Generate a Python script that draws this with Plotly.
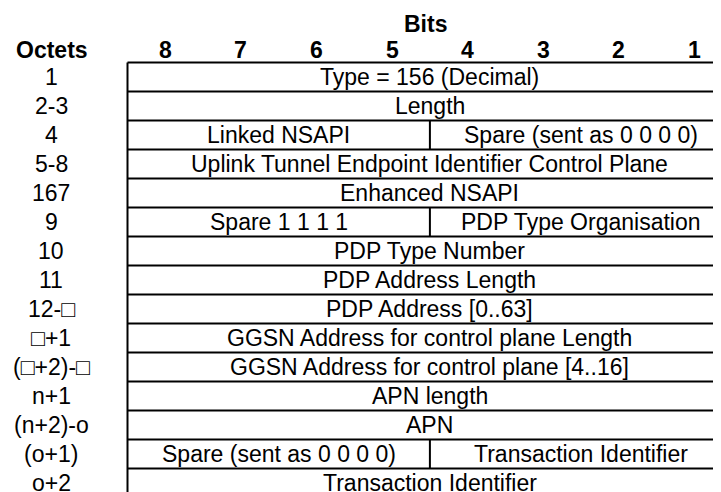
import plotly.graph_objects as go

# ---- data ----
bit_labels = ["8", "7", "6", "5", "4", "3", "2", "1"]
octet_labels = ["1", "2-3", "4", "5-8", "167", "9", "10", "11", "12-\u25a1",
                "\u25a1+1", "(\u25a1+2)-\u25a1", "n+1", "(n+2)-o", "(o+1)", "o+2"]
# each row: list of (text, first bit (high), last bit (low))
row_fields = [
    [("Type = 156 (Decimal)", 8, 1)],
    [("Length", 8, 1)],
    [("Linked NSAPI", 8, 5), ("Spare (sent as 0 0 0 0)", 4, 1)],
    [("Uplink Tunnel Endpoint Identifier Control Plane", 8, 1)],
    [("Enhanced NSAPI", 8, 1)],
    [("Spare 1 1 1 1", 8, 5), ("PDP Type Organisation", 4, 1)],
    [("PDP Type Number", 8, 1)],
    [("PDP Address Length", 8, 1)],
    [("PDP Address [0..63]", 8, 1)],
    [("GGSN Address for control plane Length", 8, 1)],
    [("GGSN Address for control plane [4..16]", 8, 1)],
    [("APN length", 8, 1)],
    [("APN", 8, 1)],
    [("Spare (sent as 0 0 0 0)", 8, 5), ("Transaction Identifier", 4, 1)],
    [("Transaction Identifier", 8, 1)],
]

# ---- layout geometry (pixels, in window coordinates) ----
W, H = 721, 492
OFF = 8  # default page body margin shifts the plot div by 8px
left_px, col_px = 127.5 - OFF, 75.6
top_px, row_px = 62.5 - OFF, 29.0
FONT = "Liberation Sans, Arial, sans-serif"
FS = 23

def col_start(bit):
    return 8 - bit

def px_to_x(p):
    return (p - OFF - left_px) / col_px

def px_to_y(p):
    return (p - OFF - top_px) / row_px

n_rows = len(octet_labels)
fig = go.Figure()
shapes = []
annotations = []
LW = 2
# horizontal lines
for r in range(n_rows + 1):
    shapes.append(dict(type="line", xref="x", yref="y", x0=0, x1=8, y0=r, y1=r,
                       line=dict(color="black", width=LW)))
# outer vertical lines
for xv in (0, 8):
    shapes.append(dict(type="line", xref="x", yref="y", x0=xv, x1=xv, y0=0, y1=n_rows,
                       line=dict(color="black", width=LW)))
for r, fields in enumerate(row_fields):
    for i, (txt, hb, lb) in enumerate(fields):
        x0 = col_start(hb)
        x1 = col_start(lb) + 1
        if i > 0:
            shapes.append(dict(type="line", xref="x", yref="y", x0=x0, x1=x0, y0=r, y1=r + 1,
                               line=dict(color="black", width=LW)))
        annotations.append(dict(x=(x0 + x1) / 2, y=r + 0.5, xref="x", yref="y", text=txt,
                                showarrow=False, xanchor="center", yanchor="middle",
                                font=dict(family=FONT, size=FS, color="black")))
    annotations.append(dict(x=px_to_x(51), y=r + 0.5, xref="x", yref="y",
                            text=octet_labels[r], showarrow=False, xanchor="center",
                            yanchor="middle", font=dict(family=FONT, size=FS, color="black")))

# header
hdr_y = px_to_y(49.5)
bits_y = px_to_y(23.5)
for i, b in enumerate(bit_labels):
    annotations.append(dict(x=i + 0.5, y=hdr_y, xref="x", yref="y", text="<b>%s</b>" % b,
                            showarrow=False, xanchor="center", yanchor="middle",
                            font=dict(family=FONT, size=FS, color="black")))
annotations.append(dict(x=px_to_x(52), y=hdr_y, xref="x", yref="y",
                        text="<b>Octets</b>", showarrow=False, xanchor="center",
                        yanchor="middle", font=dict(family=FONT, size=FS, color="black")))
annotations.append(dict(x=px_to_x(425), y=bits_y, xref="x", yref="y",
                        text="<b>Bits</b>", showarrow=False, xanchor="center",
                        yanchor="middle", font=dict(family=FONT, size=FS, color="black")))

fig.update_layout(
    width=W, height=H, margin=dict(l=0, r=0, t=0, b=0),
    paper_bgcolor="white", plot_bgcolor="white", showlegend=False,
    shapes=shapes, annotations=annotations,
    xaxis=dict(range=[-left_px / col_px, (W - left_px) / col_px], visible=False,
               fixedrange=True),
    yaxis=dict(range=[(H - top_px) / row_px, -top_px / row_px], visible=False,
               fixedrange=True),
)
fig.write_html("out.html")
